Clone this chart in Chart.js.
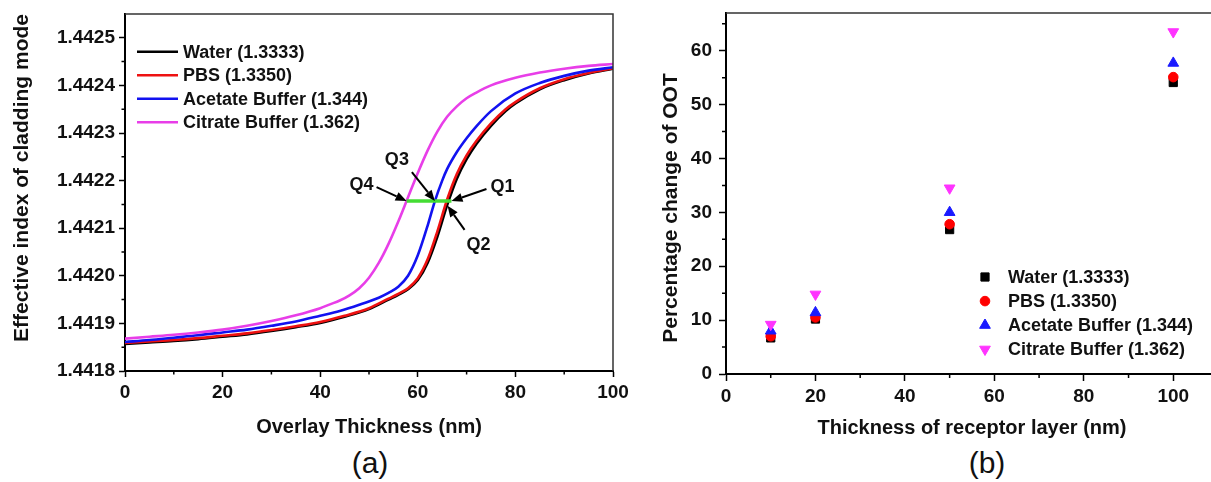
<!DOCTYPE html>
<html><head><meta charset="utf-8">
<script src="https://cdn.jsdelivr.net/npm/chart.js@4.4.1/dist/chart.umd.min.js"></script>
<style>
html,body{margin:0;padding:0;background:#fff;overflow:hidden;width:1211px;height:482px;}
#wrapA{position:absolute;left:0;top:0;width:645px;height:440px;}
#wrapB{position:absolute;left:625px;top:0;width:605px;height:440px;}
.cap{position:absolute;font-family:'Liberation Sans',Arial,sans-serif;font-size:30px;color:#111;transform:translateX(-50%);line-height:34px;white-space:nowrap;}
</style></head><body>
<div id="wrapB"><canvas id="cB" width="605" height="440"></canvas></div>
<div id="wrapA"><canvas id="cA" width="645" height="440"></canvas></div>
<div class="cap" style="left:370px;top:446px">(a)</div>
<div class="cap" style="left:987px;top:446px">(b)</div>
<script>
// ---------- data ----------
const seriesNames = ['Water (1.3333)', 'PBS (1.3350)', 'Acetate Buffer (1.344)', 'Citrate Buffer (1.362)'];

// (a) effective index vs overlay thickness
const waterX = [0,5,10,15,20,25,30,35,40,45,50,54,56,58,60,62,64,66,68,70,72,75,78,80,85,90,95,100];
const waterY = [1.441857,1.441860,1.441863,1.441867,1.441872,1.441877,1.441884,1.441892,1.441901,1.441914,1.441930,1.441950,1.441960,1.441972,1.441991,1.442027,1.442082,1.442148,1.442204,1.442245,1.442277,1.442315,1.442346,1.442362,1.442392,1.442411,1.442425,1.442435];
const pbsX = [0,5,10,15,20,25,30,35,40,45,50,54,56,58,60,62,64,66,68,70,72,75,78,80,85,90,95,100];
const pbsY = [1.441859,1.441862,1.441865,1.441869,1.441874,1.441879,1.441886,1.441894,1.441903,1.441916,1.441932,1.441952,1.441962,1.441974,1.441995,1.442034,1.442093,1.442160,1.442214,1.442253,1.442283,1.442320,1.442350,1.442365,1.442394,1.442413,1.442426,1.442436];
const acetateX = [0,5,10,15,20,25,30,35,40,44,48,52,54,56,58,60,62,63.5,65,66,68,70,72,75,80,85,90,95,100];
const acetateY = [1.441861,1.441865,1.441870,1.441875,1.441881,1.441887,1.441895,1.441904,1.441916,1.441926,1.441939,1.441954,1.441964,1.441977,1.442000,1.442043,1.442105,1.442157,1.442200,1.442224,1.442260,1.442289,1.442314,1.442346,1.442383,1.442405,1.442420,1.442431,1.442438];
const citrateX = [0,5,10,15,20,25,30,35,40,42,44,46,48,50,52,54,56,58,60,62,64,66,68,70,72,75,80,85,90,95,100];
const citrateY = [1.441868,1.441872,1.441876,1.441881,1.441887,1.441895,1.441905,1.441917,1.441932,1.441940,1.441948,1.441959,1.441974,1.441996,1.442027,1.442067,1.442114,1.442165,1.442216,1.442263,1.442303,1.442334,1.442356,1.442373,1.442385,1.442400,1.442416,1.442427,1.442435,1.442441,1.442445];
const levelX = [57.7, 66.9];
const levelY = [1.442157, 1.442157];
const qNames = ['Q1', 'Q2', 'Q3', 'Q4'];
const qX = [66.9, 66.1, 63.5, 57.7];
const qY = [1.442157, 1.442147, 1.442157, 1.442157];
const aXTicks = [0, 20, 40, 60, 80, 100];
const aYTicks = [1.4418, 1.4419, 1.4420, 1.4421, 1.4422, 1.4423, 1.4424, 1.4425];

// (b) percentage change of OOT
const thickness = [10, 20, 50, 100];
const waterPct = [6.7, 10.2, 26.8, 54.1];
const pbsPct = [7.0, 10.5, 27.8, 55.1];
const acetatePct = [8.0, 11.4, 30.0, 57.7];
const citratePct = [9.2, 14.8, 34.5, 63.5];
const bXTicks = [0, 20, 40, 60, 80, 100];
const bYTicks = [0, 10, 20, 30, 40, 50, 60];

// ---------- styles ----------
const FONT = "'Liberation Sans', Arial, sans-serif";
Chart.defaults.font.family = FONT;
Chart.defaults.color = '#111';
const lineColors = ['#000000', '#ee1111', '#1212f0', '#e83ee8'];
const markColors = ['#000000', '#ff0000', '#1a1aff', '#ff33ff'];
const markStyles = [
  {pointStyle: 'rect', radius: 5.8, rotation: 0},
  {pointStyle: 'circle', radius: 4.8, rotation: 0},
  {pointStyle: 'triangle', radius: 6.2, rotation: 0},
  {pointStyle: 'triangle', radius: 6.2, rotation: 180}
];
const qOffsets = {
  Q1: {tail: [35, -12], text: [51, -14]},
  Q2: {tail: [17, 24], text: [31, 39]},
  Q3: {tail: [-23, -29], text: [-38, -41]},
  Q4: {tail: [-30, -14], text: [-45, -16]}
};

const toPts = (xs, ys) => xs.map((x, i) => ({x: x, y: ys[i]}));

function minorTicks(chart, lenX, lenY) {
  const {ctx, chartArea: a, scales: {x, y}} = chart;
  ctx.save();
  ctx.strokeStyle = '#000';
  ctx.lineWidth = 1.5;
  ctx.beginPath();
  [[x, 'x'], [y, 'y']].forEach(([s, d]) => {
    const t = s.ticks.map(o => o.value);
    const h = (t[1] - t[0]) / 2;
    const kmin = Math.ceil(s.min / h - 1e-6), kmax = Math.floor(s.max / h + 1e-6);
    for (let k = kmin; k <= kmax; k++) {
      if (Math.abs(k) % 2 === 0) continue;
      const v = k * h;
      if (Math.abs(v - s.min) < h * 0.01 || Math.abs(v - s.max) < h * 0.01) continue;
      const p = s.getPixelForValue(v);
      if (d === 'x') { ctx.moveTo(p, a.bottom); ctx.lineTo(p, a.bottom + lenX); }
      else { ctx.moveTo(a.left, p); ctx.lineTo(a.left - lenY, p); }
    }
  });
  ctx.stroke();
  ctx.restore();
}

function frame(chart) {
  const {ctx, chartArea: a} = chart;
  ctx.save();
  ctx.strokeStyle = '#333';
  ctx.lineWidth = 1.5;
  ctx.beginPath();
  ctx.moveTo(a.left, a.top); ctx.lineTo(a.right, a.top); ctx.lineTo(a.right, a.bottom);
  ctx.stroke();
  ctx.restore();
}

function arrow(ctx, x1, y1, x2, y2) {
  const ang = Math.atan2(y2 - y1, x2 - x1), L = 11, W = 4.5;
  const bx = x2 - L * Math.cos(ang), by = y2 - L * Math.sin(ang);
  ctx.beginPath(); ctx.moveTo(x1, y1); ctx.lineTo(bx, by); ctx.stroke();
  ctx.beginPath();
  ctx.moveTo(x2, y2);
  ctx.lineTo(bx + W * Math.sin(ang), by - W * Math.cos(ang));
  ctx.lineTo(bx - W * Math.sin(ang), by + W * Math.cos(ang));
  ctx.closePath(); ctx.fill();
}

function axisX(ticksArr, min, max, title, tickLen, pad, h, titlePad) {
  return {
    type: 'linear', min: min, max: max,
    afterBuildTicks: s => { s.ticks = ticksArr.map(v => ({value: v})); },
    afterFit: s => { s.height = h; s.paddingLeft = 0; s.paddingRight = 0; },
    ticks: {font: {size: 19, weight: 'bold'}, color: '#111', padding: pad, maxRotation: 0, autoSkip: false},
    grid: {drawOnChartArea: false, tickLength: tickLen, tickColor: '#000', tickWidth: 1.5},
    border: {color: '#000', width: 2},
    title: {display: true, text: title, font: {size: 20, weight: 'bold'}, color: '#111', padding: {top: 0, bottom: titlePad}}
  };
}
function axisY(ticksArr, min, max, tickLen, pad, w, cb, title) {
  return {
    type: 'linear', min: min, max: max,
    afterBuildTicks: s => { s.ticks = ticksArr.map(v => ({value: v})); },
    afterFit: s => { s.width = w; s.paddingTop = 0; s.paddingBottom = 0; },
    ticks: {font: {size: 19, weight: 'bold'}, color: '#111', padding: pad, autoSkip: false, callback: cb},
    grid: {drawOnChartArea: false, tickLength: tickLen, tickColor: '#000', tickWidth: 1.5},
    border: {color: '#000', width: 2},
    title: title
  };
}

// ---------- chart (a) ----------
const aSeries = [[waterX, waterY], [pbsX, pbsY], [acetateX, acetateY], [citrateX, citrateY]];
const aDatasets = aSeries.map((s, i) => ({
  label: seriesNames[i],
  data: toPts(s[0], s[1]),
  borderColor: lineColors[i],
  backgroundColor: lineColors[i],
  borderWidth: 2.6,
  pointRadius: 0,
  cubicInterpolationMode: 'monotone',
  order: 3 - i + 1
}));
aDatasets.push({
  label: 'level',
  data: toPts(levelX, levelY),
  borderColor: '#44dd33',
  borderWidth: 3.5,
  pointRadius: 0,
  order: 0
});

const aDecor = {
  id: 'aDecor',
  afterDraw(chart) {
    frame(chart);
    minorTicks(chart, 3.5, 3.5);
    const {ctx, chartArea: a, scales: {x, y}} = chart;
    ctx.save();
    // legend
    ctx.font = 'bold 18px ' + FONT;
    ctx.textBaseline = 'middle';
    ctx.textAlign = 'left';
    seriesNames.forEach((n, i) => {
      const yy = a.top + 37.7 + i * 23.5;
      ctx.strokeStyle = lineColors[i];
      ctx.lineWidth = 2.6;
      ctx.beginPath(); ctx.moveTo(a.left + 12, yy); ctx.lineTo(a.left + 53, yy); ctx.stroke();
      ctx.fillStyle = '#111';
      ctx.fillText(n, a.left + 58, yy + 1);
    });
    // Q annotations
    ctx.strokeStyle = '#000';
    ctx.fillStyle = '#000';
    ctx.lineWidth = 2;
    ctx.textAlign = 'center';
    qNames.forEach((n, i) => {
      const px = x.getPixelForValue(qX[i]), py = y.getPixelForValue(qY[i]);
      const o = qOffsets[n];
      arrow(ctx, px + o.tail[0], py + o.tail[1], px, py);
      ctx.fillStyle = '#111';
      ctx.fillText(n, px + o.text[0], py + o.text[1]);
      ctx.fillStyle = '#000';
    });
    ctx.restore();
  }
};

new Chart(document.getElementById('cA'), {
  type: 'line',
  data: {datasets: aDatasets},
  options: {
    responsive: false, animation: false,
    layout: {padding: {left: 0, top: 14, right: 32, bottom: 0}},
    plugins: {legend: {display: false}, tooltip: {enabled: false}},
    scales: {
      x: axisX(aXTicks, 0, 100, 'Overlay Thickness (nm)', 6, 4, 69, 1),
      y: axisY(aYTicks, 1.4418, 1.44255, 6, 4, 125, v => v.toFixed(4),
        {display: true, text: 'Effective index of cladding mode', align: 'end', font: {size: 21, weight: 'bold'}, color: '#111', padding: {top: 10, bottom: 0}})
    }
  },
  plugins: [aDecor]
});

// ---------- chart (b) ----------
const bSeries = [waterPct, pbsPct, acetatePct, citratePct];
const bDatasets = bSeries.map((vals, i) => ({
  label: seriesNames[i],
  data: toPts(thickness, vals),
  showLine: false,
  pointStyle: markStyles[i].pointStyle,
  pointRadius: markStyles[i].radius,
  pointRotation: markStyles[i].rotation,
  pointBackgroundColor: markColors[i],
  pointBorderColor: markColors[i],
  pointBorderWidth: 1,
  order: 3 - i
}));

const bDecor = {
  id: 'bDecor',
  afterDraw(chart) {
    frame(chart);
    minorTicks(chart, 4, 4);
    const {ctx, chartArea: a} = chart;
    ctx.save();
    // y title
    ctx.font = 'bold 21px ' + FONT;
    ctx.fillStyle = '#111';
    ctx.textAlign = 'center';
    ctx.textBaseline = 'middle';
    ctx.translate(46, 208);
    ctx.rotate(-Math.PI / 2);
    ctx.fillText('Percentage change of OOT', 0, 0);
    ctx.restore();
    // legend
    ctx.save();
    ctx.font = 'bold 18px ' + FONT;
    ctx.textBaseline = 'middle';
    ctx.textAlign = 'left';
    seriesNames.forEach((n, i) => {
      const yy = a.bottom - 97 + i * 24.1;
      ctx.fillStyle = markColors[i];
      ctx.strokeStyle = markColors[i];
      Chart.helpers.drawPoint(ctx, {pointStyle: markStyles[i].pointStyle, radius: markStyles[i].radius, rotation: markStyles[i].rotation, borderWidth: 1}, a.left + 259, yy);
      ctx.fillStyle = '#111';
      ctx.fillText(n, a.left + 282, yy + 1);
    });
    ctx.restore();
  }
};

new Chart(document.getElementById('cB'), {
  type: 'scatter',
  data: {datasets: bDatasets},
  options: {
    responsive: false, animation: false,
    layout: {padding: {left: 0, top: 13, right: 12, bottom: 0}},
    plugins: {legend: {display: false}, tooltip: {enabled: false}},
    scales: {
      x: axisX(bXTicks, 0, 110, 'Thickness of receptor layer (nm)', 7, 4, 66, 0),
      y: axisY(bYTicks, 0, 67, 7, 7, 101, v => String(v), {display: false})
    }
  },
  plugins: [bDecor]
});
</script>
</body></html>
